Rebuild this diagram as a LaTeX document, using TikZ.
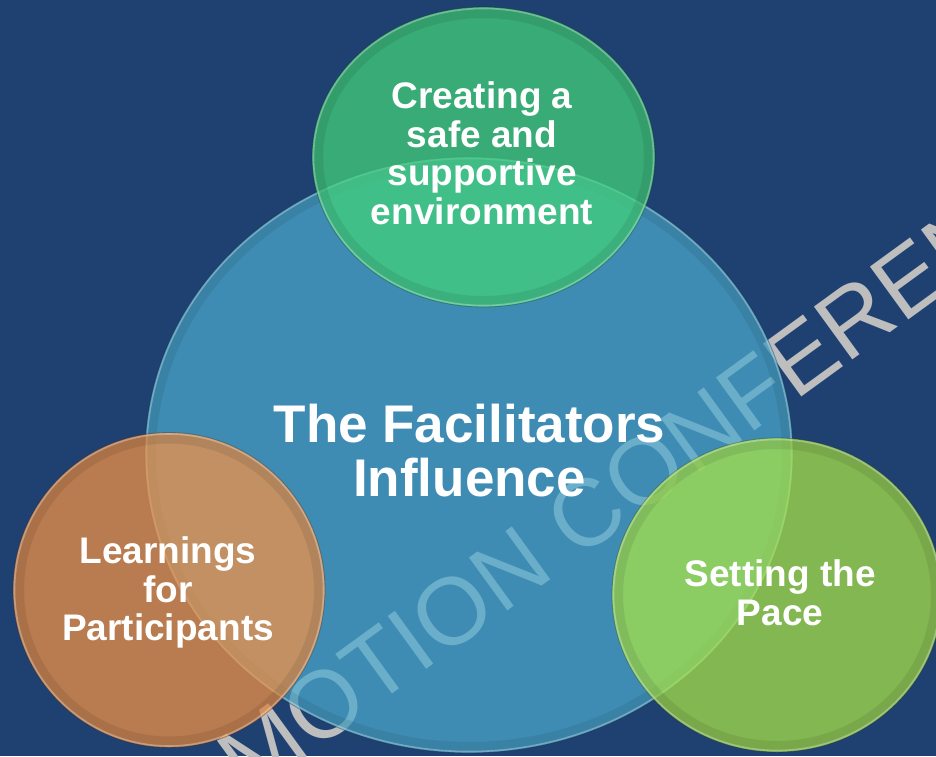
\documentclass[tikz,border=0pt]{standalone}
\usepackage{fontspec}
\setmainfont{Liberation Sans}
\definecolor{navy}{RGB}{31,65,114}
\definecolor{hubblue}{RGB}{74,169,206}
\definecolor{leafgreen}{RGB}{67,212,120}
\definecolor{clay}{RGB}{245,146,68}
\definecolor{lime}{RGB}{170,229,69}
\definecolor{stampgray}{RGB}{190,190,190}
% translucent glass disc: centre, x radius, y radius, colour
\newcommand\drawbubble[4]{%
  \fill[#4, fill opacity=0.72] (#1) ellipse [x radius=#2pt, y radius=#3pt];
  \draw[black, draw opacity=0.08, line width=10pt] (#1) ellipse [x radius=#2pt-6pt, y radius=#3pt-6pt];
  \draw[white, draw opacity=0.30, line width=1.6pt] (#1) ellipse [x radius=#2pt-1.5pt, y radius=#3pt-1.5pt];
  \draw[black, draw opacity=0.25, line width=0.8pt] (#1) ellipse [x radius=#2pt, y radius=#3pt];
}
\begin{document}
\begin{tikzpicture}[x=1pt, y=-1pt,
  label/.style={text=white, font=\bfseries\fontsize{37}{38.5}\selectfont, align=center, inner sep=0pt},
  title/.style={text=white, font=\bfseries\fontsize{53}{54}\selectfont, align=center, inner sep=0pt},
  stamp/.style={text=stampgray, font=\fontsize{95}{95}\selectfont, inner sep=0pt, rotate=36, anchor=base west}]
\useasboundingbox (0,0) rectangle (936,756);
\clip (0,0) rectangle (936,756);
\fill[navy] (0,0) rectangle (936,756);

% watermark lettering behind the discs
\node[stamp] (mark) at (249,799) {MOTION CONFERENCE};

% discs
\drawbubble{469,455}{324}{298}{hubblue}
\drawbubble{483.5,157}{171.5}{150}{leafgreen}
\drawbubble{169,590}{156}{157.5}{clay}
\drawbubble{777,595}{165}{157}{lime}

% captions
\node[title] (hub) at (469.5,450.5) {The Facilitators\\Influence};
\node[label] (safe) at (482,153.5) {Creating a\\safe and\\supportive\\environment};
\node[label] (learn) at (168,592.5) {Learnings\\for\\Participants};
\node[label] (pace) at (780,593) {Setting the\\Pace};
\end{tikzpicture}
\end{document}
